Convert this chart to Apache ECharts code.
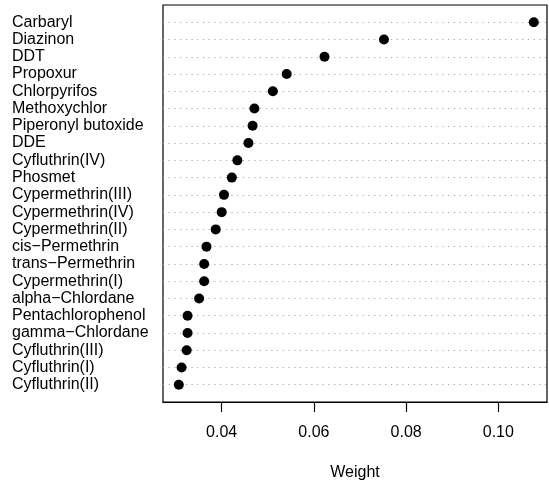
<!DOCTYPE html>
<html>
<head>
<meta charset="utf-8">
<script src="https://cdn.jsdelivr.net/npm/echarts@6/dist/echarts.min.js"></script>
<style>
  html, body { margin: 0; padding: 0; background: #fff; }
  #chart { width: 549px; height: 487px; }
</style>
</head>
<body>
<div id="chart"></div>
<script>
// top to bottom, as in the picture
const names = ['Carbaryl', 'Diazinon', 'DDT', 'Propoxur', 'Chlorpyrifos', 'Methoxychlor',
  'Piperonyl butoxide', 'DDE', 'Cyfluthrin(IV)', 'Phosmet', 'Cypermethrin(III)',
  'Cypermethrin(IV)', 'Cypermethrin(II)', 'cis\u2212Permethrin', 'trans\u2212Permethrin',
  'Cypermethrin(I)', 'alpha\u2212Chlordane', 'Pentachlorophenol', 'gamma\u2212Chlordane',
  'Cyfluthrin(III)', 'Cyfluthrin(I)', 'Cyfluthrin(II)']
const weights = [0.1077, 0.0752, 0.0623, 0.0541, 0.0511, 0.0471, 0.0467, 0.0458, 0.0434,
  0.0422, 0.0405, 0.0400, 0.0387, 0.0367, 0.0362, 0.0362, 0.0351, 0.0326, 0.0326,
  0.0324, 0.0313, 0.0307]
const xTicks = [0.04, 0.06, 0.08, 0.10]

const n = names.length
// row 1 sits at the bottom, like R's dotchart
const points = weights.map((w, i) => [w, n - i])

const chart = echarts.init(document.getElementById('chart'))
const font = 'Liberation Sans, Arial, Helvetica, sans-serif'

const option = {
  animation: false,
  backgroundColor: '#fff',
  grid: {
    left: 163,
    right: 2,
    top: 5,
    bottom: 85,
    show: true,
    borderColor: '#000',
    borderWidth: 1.2
  },
  xAxis: {
    type: 'value',
    min: 0.02727,
    max: 0.11056,
    name: 'Weight',
    nameLocation: 'middle',
    nameGap: 63,
    nameTextStyle: { fontFamily: font, fontSize: 16, color: '#000' },
    axisLine: { show: true, lineStyle: { color: '#000', width: 1.2 } },
    axisTick: {
      show: true,
      length: 10,
      customValues: xTicks,
      lineStyle: { color: '#000', width: 1.2 }
    },
    axisLabel: {
      customValues: xTicks,
      margin: 23,
      fontFamily: font,
      fontSize: 16,
      color: '#000',
      formatter: v => v.toFixed(2)
    },
    splitLine: { show: false }
  },
  yAxis: {
    type: 'value',
    min: 0,
    max: n + 1,
    interval: 1,
    axisLine: { show: false },
    axisTick: { show: false },
    axisLabel: {
      align: 'left',
      margin: 151,
      fontFamily: font,
      fontSize: 16,
      color: '#000',
      formatter: v => (v >= 1 && v <= n) ? names[n - v] : ''
    },
    splitLine: {
      show: true,
      showMinLine: false,
      showMaxLine: false,
      lineStyle: { color: '#a8a8a8', width: 1.2, type: [1.2, 4.5] }
    }
  },
  series: [
    {
      type: 'scatter',
      data: points,
      symbol: 'circle',
      symbolSize: 10,
      itemStyle: { color: '#000', opacity: 1 }
    }
  ]
}

chart.setOption(option)
</script>
</body>
</html>
